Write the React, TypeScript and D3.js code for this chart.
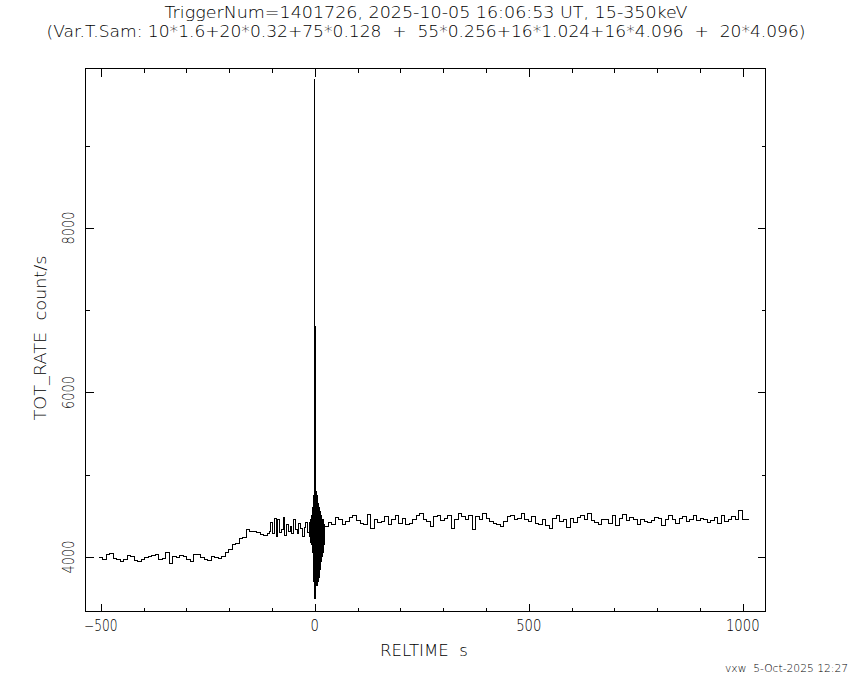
import React from "react";
import * as d3 from "d3";

const W = 850;
const H = 680;

// Title / labels
const titleLine1 = "TriggerNum=1401726, 2025-10-05 16:06:53 UT, 15-350keV";
const titleLine2 = "(Var.T.Sam: 10*1.6+20*0.32+75*0.128  +  55*0.256+16*1.024+16*4.096  +  20*4.096)";
const xLabel = "RELTIME  s";
const yLabel = "TOT_RATE  count/s";
const stamp = "vxw  5-Oct-2025 12:27";

// Ticks
const xMajorTicks = [-500, 0, 500, 1000];
const xMajorLabels = ["\u2212500", "0", "500", "1000"];
const xMinorTicks = [-400, -300, -200, -100, 100, 200, 300, 400, 600, 700, 800, 900];
const yMajorTicks = [4000, 6000, 8000];
const yMajorLabels = ["4000", "6000", "8000"];
const yMinorTicks = [5000, 7000, 9000];

// Data segments (variable time sampling)
const preStart = -504;
const preWidth = 8.192;
const preRates = [3990, 3975, 4030, 4045, 3985, 3975, 3945, 3975, 4015, 4000,
  3960, 3940, 3970, 3990, 4000, 4020, 4035, 3975, 3985, 4060,
  3920, 4000, 3990, 4020, 4000, 3970, 3945, 4030, 4025, 3995,
  3970, 3960, 4000, 3990, 3985, 4010, 4060, 4090, 4150, 4160,
  4230, 4240, 4330, 4310, 4305, 4300, 4270, 4255];

const midWidth = 4.096;
const midRates = [4290, 4310, 4420, 4280, 4470, 4250, 4460, 4300, 4330, 4480,
  4260, 4400, 4310, 4370, 4290, 4450, 4330, 4280, 4410, 4340,
  4250, 4360, 4420, 4300];

const burstWidth = 0.512;
const burstRates = [4380, 4250, 4420, 4230, 4450, 4200, 4400, 4180, 4480, 4220, 4500, 4150,
  4550, 4100, 4600, 4050, 4550, 3950,
  4700, 3850, 4750, 3700, 4850, 3550,
  9800, 3500, 6800,
  3550, 4850, 3600, 4800, 3650, 4750,
  3700, 4700, 3650, 4750, 3750, 4650,
  3700, 4600, 3800, 4650, 3850, 4550,
  3750, 4600, 3900, 4500, 3950, 4550,
  3850, 4500, 4000, 4450, 3950, 4500,
  4050, 4400, 4000, 4450, 4100, 4400,
  4150, 4450, 4050, 4400, 4200, 4350, 4150, 4400];

const postWidth = 8.192;
const postRates = [4370, 4420, 4400, 4475, 4460, 4400, 4430, 4480,
  4500, 4440, 4410, 4390, 4520, 4340, 4450, 4420, 4430, 4490,
  4390, 4450, 4510, 4410, 4470, 4390, 4410, 4450, 4510, 4530,
  4450, 4430, 4370, 4490, 4510, 4440, 4470, 4500, 4350, 4450,
  4530, 4490, 4450, 4510, 4330, 4490, 4450, 4530, 4470, 4430,
  4410, 4390, 4370, 4430, 4490, 4510, 4450, 4470, 4530, 4450,
  4430, 4490, 4410, 4390,
  4460, 4380, 4350, 4470, 4500, 4430, 4450, 4360, 4470, 4420,
  4480, 4500, 4460, 4530, 4440, 4420, 4390, 4460, 4450, 4410,
  4500, 4380, 4470, 4520, 4440, 4480, 4450, 4400, 4460, 4430,
  4420, 4440, 4480, 4470, 4380, 4460, 4500, 4450, 4410, 4470,
  4490, 4430, 4460, 4510, 4440, 4470, 4450, 4420,
  4440, 4480, 4410, 4500, 4430, 4460, 4490,
  4460, 4570, 4450, 4460];

const segments = [
  { width: preWidth, rates: preRates },
  { width: midWidth, rates: midRates },
  { width: burstWidth, rates: burstRates },
  { width: postWidth, rates: postRates },
];

function buildPoints(): [number, number][] {
  const pts: [number, number][] = [];
  let t = preStart;
  let last = 0;
  for (const seg of segments) {
    for (const r of seg.rates) {
      pts.push([t, r]);
      t += seg.width;
      last = r;
    }
  }
  pts.push([t, last]);
  return pts;
}

const FL = 85, FR = 765, FT = 68, FB = 611;

export default function App() {
  const x = d3.scaleLinear().domain([-536.7, 1052]).range([FL, FR]);
  const y = d3.scaleLinear().domain([3343, 9945]).range([FB, FT]);
  const pts = buildPoints();
  const line = d3
    .line<[number, number]>()
    .x((d) => x(d[0]))
    .y((d) => y(d[1]))
    .curve(d3.curveStepAfter);
  const path = line(pts) || "";

  const font = "'DejaVu Sans', 'Liberation Sans', sans-serif";
  const fw = 200;
  const px = (v: number) => Math.round(v) + 0.5;

  return (
    <svg
      width={W}
      height={H}
      viewBox={`0 0 ${W} ${H}`}
      style={{ position: "absolute", left: 0, top: 0, background: "#fff" }}
    >
      <rect x={0} y={0} width={W} height={H} fill="#fff" />
      {/* Titles */}
      <text x={426} y={18} fontFamily={font} fontWeight={fw} fontSize={15} textAnchor="middle"
        textLength={523} lengthAdjust="spacingAndGlyphs" fill="#000">{titleLine1}</text>
      <text x={426} y={37} fontFamily={font} fontWeight={fw} fontSize={15} textAnchor="middle"
        textLength={759} lengthAdjust="spacingAndGlyphs" fill="#000"
        style={{ whiteSpace: "pre" }}>{titleLine2}</text>

      {/* Frame */}
      <g shapeRendering="crispEdges" stroke="#000" strokeWidth={1} fill="none">
        <rect x={px(FL)} y={px(FT)} width={FR - FL} height={FB - FT} />
        {xMajorTicks.map((t) => (
          <g key={"xm" + t}>
            <line x1={px(x(t))} x2={px(x(t))} y1={px(FB)} y2={px(FB) - 8} />
            <line x1={px(x(t))} x2={px(x(t))} y1={px(FT)} y2={px(FT) + 8} />
          </g>
        ))}
        {xMinorTicks.map((t) => (
          <g key={"xn" + t}>
            <line x1={px(x(t))} x2={px(x(t))} y1={px(FB)} y2={px(FB) - 4} />
            <line x1={px(x(t))} x2={px(x(t))} y1={px(FT)} y2={px(FT) + 4} />
          </g>
        ))}
        {yMajorTicks.map((t) => (
          <g key={"ym" + t}>
            <line x1={px(FL)} x2={px(FL) + 8} y1={px(y(t))} y2={px(y(t))} />
            <line x1={px(FR)} x2={px(FR) - 8} y1={px(y(t))} y2={px(y(t))} />
          </g>
        ))}
        {yMinorTicks.map((t) => (
          <g key={"yn" + t}>
            <line x1={px(FL)} x2={px(FL) + 4} y1={px(y(t))} y2={px(y(t))} />
            <line x1={px(FR)} x2={px(FR) - 4} y1={px(y(t))} y2={px(y(t))} />
          </g>
        ))}
      </g>

      {/* Data */}
      <path d={path} fill="none" stroke="#000" strokeWidth={1} shapeRendering="crispEdges" />

      {/* X tick labels */}
      {xMajorTicks.map((t, i) => (
        <text key={"xl" + t} x={x(t)} y={631} fontFamily={font} fontWeight={fw} fontSize={15}
          textAnchor="middle" fill="#000"
          textLength={xMajorLabels[i].length * 8.4} lengthAdjust="spacingAndGlyphs">
          {xMajorLabels[i]}
        </text>
      ))}
      <text x={424} y={656} fontFamily={font} fontWeight={fw} fontSize={15} textAnchor="middle" fill="#000"
        textLength={88} lengthAdjust="spacingAndGlyphs" style={{ whiteSpace: "pre" }}>{xLabel}</text>

      {/* Y tick labels */}
      {yMajorTicks.map((t, i) => (
        <text key={"yl" + t} transform={`translate(74,${y(t)}) rotate(-90)`}
          fontFamily={font} fontWeight={fw} fontSize={15} textAnchor="middle" fill="#000"
          textLength={33} lengthAdjust="spacingAndGlyphs">
          {yMajorLabels[i]}
        </text>
      ))}
      <text transform={`translate(46,338) rotate(-90)`} fontFamily={font} fontWeight={fw} fontSize={15}
        textAnchor="middle" fill="#000" textLength={165} lengthAdjust="spacingAndGlyphs"
        style={{ whiteSpace: "pre" }}>{yLabel}</text>

      {/* Stamp */}
      <text x={848} y={672} fontFamily={font} fontWeight={fw} fontSize={11} textAnchor="end" fill="#000"
        textLength={123} lengthAdjust="spacingAndGlyphs" style={{ whiteSpace: "pre" }}>{stamp}</text>
    </svg>
  );
}
